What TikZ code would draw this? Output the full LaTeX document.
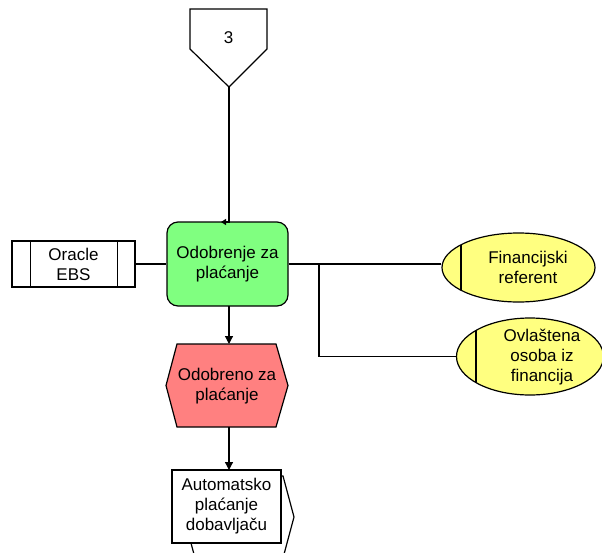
\documentclass[tikz,border=0pt]{standalone}
\usepackage{fontspec}
\setmainfont{Liberation Sans}
\usetikzlibrary{arrows.meta,shapes.geometric}
\definecolor{fngreen}{RGB}{128,255,128}
\definecolor{evred}{RGB}{255,128,128}
\definecolor{orgyellow}{RGB}{255,255,128}
\begin{document}
\begin{tikzpicture}[x=1pt,y=-1pt,line width=1.2pt,
  lbl/.style={font=\fontsize{17}{20}\selectfont,align=center,inner sep=0pt},
  arr/.style={-{Triangle[length=8pt,width=8pt]}},
  small arr/.style={-{Triangle[length=5pt,width=6pt]}},
  boxshape/.style={draw,fill=white}]
\useasboundingbox (0,0) rectangle (602,552);

% --- off-page connector "3"
\coordinate (p3tip) at (229,87);
\draw[fill=white] (190,9) -- (267,9) -- (267,49) -- (p3tip) -- (190,49) -- cycle;
\node[lbl] (ev3) at (228.5,38) {3};

% --- function
\node[draw,fill=fngreen,rounded corners=11pt,minimum width=121pt,minimum height=84pt,lbl] (fn) at (227.5,264) {Odobrenje za\\plaćanje};

% --- connector from "3" into the function
\coordinate (p3bend) at (229,222);
\coordinate (p3end) at (221,222);
\draw[small arr] (p3tip) -- (p3bend) -- (p3end);

% --- system
\node[boxshape,minimum width=123pt,minimum height=46pt,lbl] (sys) at (73.5,264) {Oracle\\EBS};
\draw ([xshift=19pt]sys.north west) -- ([xshift=19pt]sys.south west);
\draw ([xshift=-18pt]sys.north east) -- ([xshift=-18pt]sys.south east);
\draw (sys.east) -- (fn.west);

% --- org units
\node[draw,fill=orgyellow,ellipse,minimum width=153pt,minimum height=69pt,inner sep=0pt] (r1) at (518.5,267.5) {};
\begin{scope}
  \clip (r1.center) ellipse [x radius=76.5pt, y radius=34.5pt];
  \draw (461,220) -- (461,320);
\end{scope}
\node[lbl] (r1t) at (528,267.5) {Financijski\\referent};

\node[draw,fill=orgyellow,ellipse,minimum width=147pt,minimum height=77pt,inner sep=0pt] (r2) at (530,356.5) {};
\begin{scope}
  \clip (r2.center) ellipse [x radius=73.5pt, y radius=38.5pt];
  \draw (476,300) -- (476,420);
\end{scope}
\node[lbl] (r2t) at (542,357) {Ovlaštena\\osoba iz\\financija};

\coordinate (br) at (319,264);
\draw (fn.east) -- (fn.east -| r1.west);
\draw (br) |- (r2.west);

% --- event
\coordinate (evtop) at (229,344);
\coordinate (evbot) at (229,427);
\draw[fill=evred] (177,344) -- (276,344) -- (288,385.5) -- (276,427) -- (177,427) -- (166,385.5) -- cycle;
\node[lbl] (ev) at (227,386) {Odobreno za\\plaćanje};
\coordinate (fnbot) at (229,306);
\draw[arr] (fnbot) -- (evtop);

% --- process interface
\draw[fill=white] (195,476) -- (283,476) -- (294,517) -- (283,558) -- (195,558) -- (184,517) -- cycle;
\node[boxshape,minimum width=109pt,minimum height=73pt,lbl] (pi) at (226.5,506.5) {Automatsko\\plaćanje\\dobavljaču};
\coordinate (pitop) at (229,470);
\draw[arr] (evbot) -- (pitop);
\end{tikzpicture}
\end{document}
